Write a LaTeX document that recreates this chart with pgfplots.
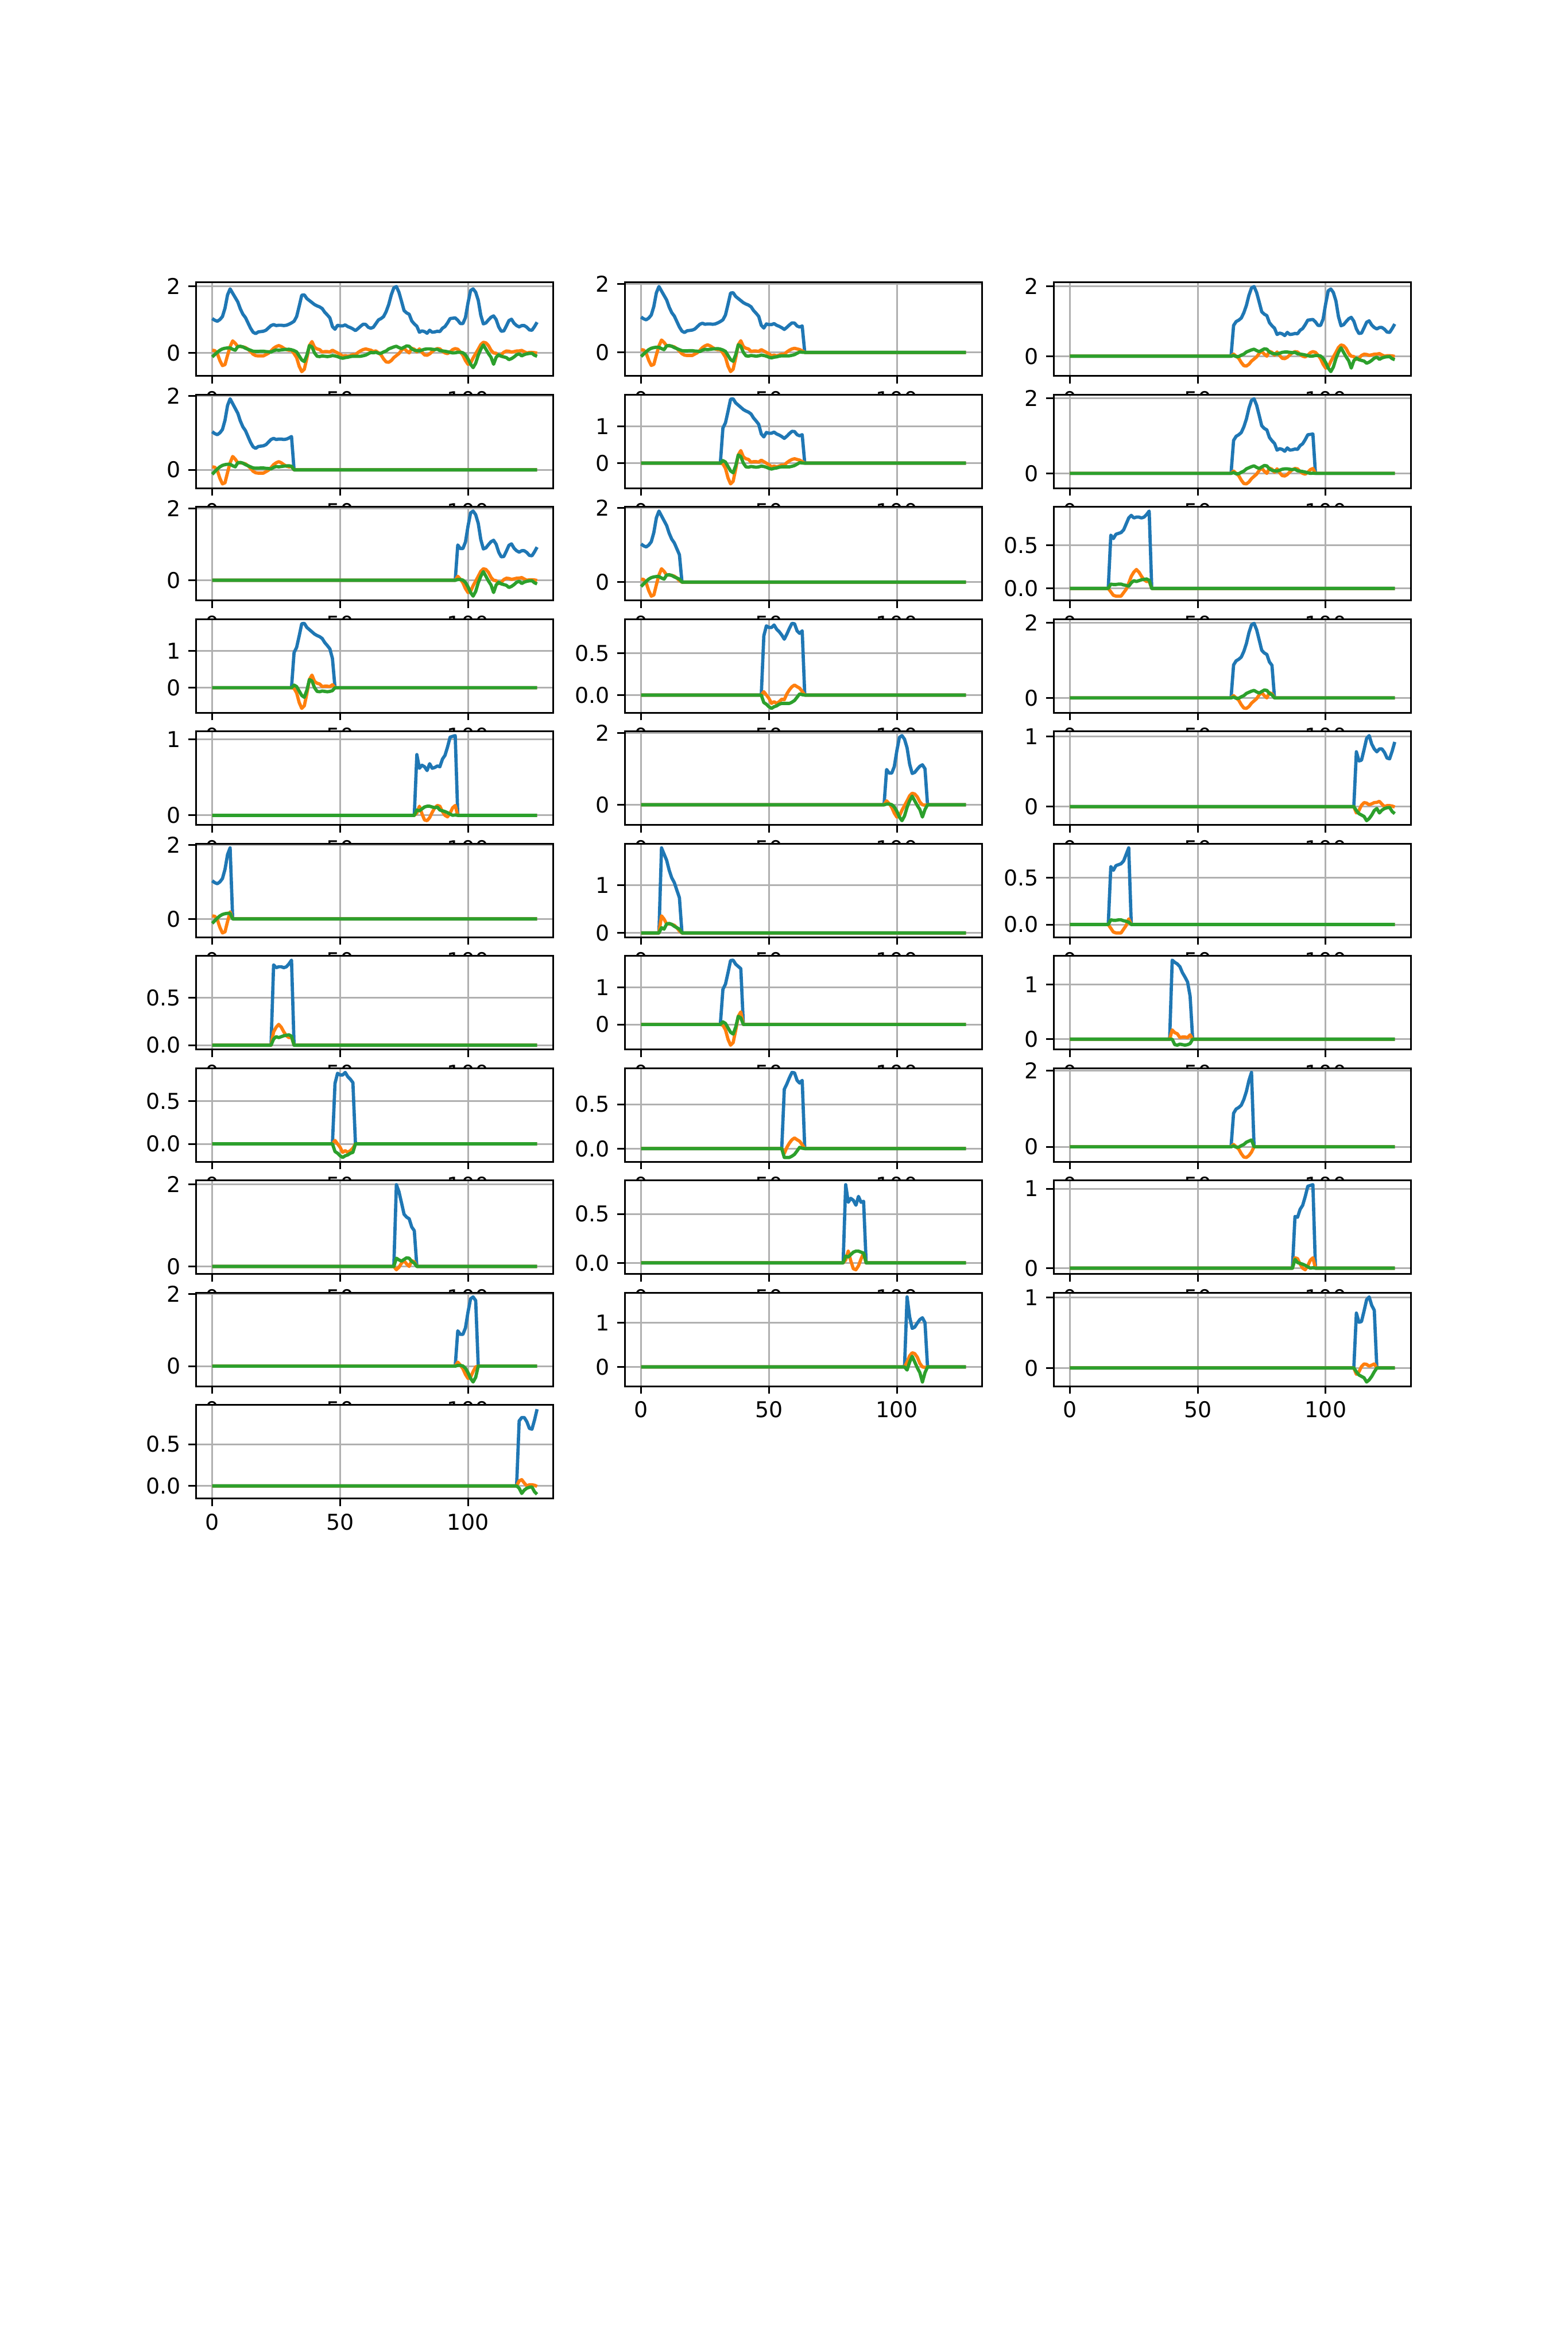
\documentclass[border=0pt]{standalone}
\usepackage{fontspec}
\setmainfont{DejaVu Sans}
\usepackage{pgfplots}
\usepackage{pgfplotstable}
\pgfplotsset{compat=1.18}
\definecolor{c0}{HTML}{1F77B4}
\definecolor{c1}{HTML}{FF7F0E}
\definecolor{c2}{HTML}{2CA02C}
\definecolor{gridc}{HTML}{B0B0B0}

\pgfplotstableread{
x b o g
0 1.03 0.08 -0.12
1 0.98 0.07 -0.05
2 0.95 -0.02 0.02
3 1.00 -0.23 0.08
4 1.09 -0.38 0.12
5 1.34 -0.35 0.14
6 1.74 -0.07 0.15
7 1.92 0.19 0.15
8 1.79 0.36 0.11
9 1.66 0.29 0.08
10 1.53 0.19 0.19
11 1.32 0.19 0.20
12 1.16 0.18 0.18
13 1.06 0.16 0.14
14 0.90 0.11 0.11
15 0.74 0.04 0.08
16 0.62 -0.04 0.05
17 0.58 -0.08 0.045
18 0.63 -0.09 0.045
19 0.64 -0.09 0.05
20 0.65 -0.09 0.05
21 0.68 -0.05 0.04
22 0.75 -0.01 0.035
23 0.82 0.06 0.025
24 0.85 0.14 0.065
25 0.82 0.19 0.09
26 0.83 0.22 0.08
27 0.83 0.19 0.09
28 0.82 0.14 0.10
29 0.83 0.10 0.105
30 0.86 0.08 0.11
31 0.90 0.085 0.095
32 0.95 -0.02 0.07
33 1.09 -0.14 0.03
34 1.40 -0.40 -0.09
35 1.73 -0.56 -0.21
36 1.74 -0.49 -0.26
37 1.63 -0.16 -0.07
38 1.57 0.22 0.22
39 1.51 0.34 0.18
40 1.45 0.17 0.00
41 1.41 0.12 -0.10
42 1.38 0.10 -0.11
43 1.33 0.03 -0.09
44 1.22 0.04 -0.10
45 1.14 0.04 -0.11
46 1.05 0.03 -0.10
47 0.79 0.08 -0.08
48 0.71 0.04 -0.09
49 0.83 0.00 -0.11
50 0.81 -0.04 -0.14
51 0.81 -0.10 -0.16
52 0.84 -0.08 -0.14
53 0.79 -0.10 -0.13
54 0.76 -0.08 -0.11
55 0.72 -0.05 -0.10
56 0.67 -0.055 -0.10
57 0.73 0.014 -0.10
58 0.80 0.063 -0.10
59 0.86 0.10 -0.085
60 0.855 0.12 -0.065
61 0.77 0.10 -0.026
62 0.74 0.083 0.014
63 0.77 0.043 0.004
64 0.88 0.06 0.02
65 0.99 0.00 -0.01
66 1.03 -0.06 -0.01
67 1.09 -0.18 0.03
68 1.24 -0.27 0.06
69 1.45 -0.28 0.12
70 1.74 -0.23 0.15
71 1.95 -0.14 0.18
72 1.99 -0.08 0.20
73 1.82 -0.02 0.16
74 1.55 0.08 0.13
75 1.27 0.14 0.17
76 1.20 0.06 0.21
77 1.16 0.00 0.20
78 0.96 0.14 0.12
79 0.87 0.11 0.08
80 0.80 0.03 0.07
81 0.62 0.12 0.06
82 0.66 0.02 0.085
83 0.64 -0.06 0.11
84 0.59 -0.07 0.12
85 0.68 -0.03 0.12
86 0.62 0.04 0.11
87 0.63 0.10 0.10
88 0.65 0.13 0.11
89 0.64 0.12 0.07
90 0.74 0.05 0.06
91 0.79 0.00 0.05
92 0.90 -0.02 0.035
93 1.03 0.03 0.017
94 1.04 0.10 0.00
95 1.05 0.13 0.005
96 0.98 0.11 0.02
97 0.88 0.03 0.02
98 0.88 -0.07 0.005
99 1.06 -0.23 -0.06
100 1.50 -0.34 -0.18
101 1.87 -0.31 -0.34
102 1.92 -0.15 -0.44
103 1.82 -0.02 -0.31
104 1.58 0.11 -0.07
105 1.13 0.25 0.11
106 0.87 0.32 0.24
107 0.90 0.30 0.11
108 0.99 0.22 -0.02
109 1.07 0.08 -0.13
110 1.11 0.00 -0.34
111 1.00 -0.01 -0.13
112 0.78 -0.09 -0.055
113 0.65 -0.055 -0.10
114 0.66 0.02 -0.12
115 0.81 0.057 -0.14
116 0.97 0.05 -0.20
117 1.01 0.025 -0.17
118 0.89 0.04 -0.12
119 0.82 0.057 -0.055
120 0.78 0.06 -0.027
121 0.82 0.075 -0.09
122 0.82 0.035 -0.05
123 0.77 0.00 -0.027
124 0.69 0.014 -0.016
125 0.68 0.014 -0.012
126 0.79 0.008 -0.07
127 0.92 -0.006 -0.10
}\sig

\pgfplotsset{
  ps/.style={
    scale only axis, width=164.11bp, height=42.96bp, anchor=north west,
    xmin=-6.35, xmax=133.35, enlarge y limits={rel=0.05},
    xtick={0,50,100}, xticklabels={0,50,100},
    grid=major, major grid style={gridc, line width=0.8bp},
    tick align=outside, tick pos=left, major tick length=3.5bp,
    major tick style={black, line width=0.8bp},
    axis line style={black, line width=0.8bp},
    axis background/.style={fill=white},
    tick label style={font=\fontsize{10bp}{12bp}\selectfont},
    every axis plot/.append style={line width=1.5bp, line join=round, no markers},
  },
  tA/.style={ytick={0,2}, yticklabels={0,2}},
  tB/.style={ytick={0,1}, yticklabels={0,1}},
  tC/.style={ytick={0,0.5}, yticklabels={0.0,0.5}},
}

% #1 column, #2 row, #3 first index, #4 end index (excluded), #5 tick style
\newcommand{\panel}[5]{%
\begin{axis}[ps, #5,
  at={({(375+(#1-1)*820.6)*0.24bp},{(4500-540-(#2-1)*214.8)*0.24bp})}]
\addplot[c0] table[x=x, y expr={(\thisrow{x}>=#3 && \thisrow{x}<#4) ? \thisrow{b} : 0}] {\sig};
\addplot[c1] table[x=x, y expr={(\thisrow{x}>=#3 && \thisrow{x}<#4) ? \thisrow{o} : 0}] {\sig};
\addplot[c2] table[x=x, y expr={(\thisrow{x}>=#3 && \thisrow{x}<#4) ? \thisrow{g} : 0}] {\sig};
\end{axis}}

\begin{document}
\begin{tikzpicture}
\fill[white] (0,0) rectangle (720bp,1080bp);
\panel{1}{1}{0}{128}{tA}
\panel{2}{1}{0}{64}{tA}
\panel{3}{1}{64}{128}{tA}
\panel{1}{2}{0}{32}{tA}
\panel{2}{2}{32}{64}{tB}
\panel{3}{2}{64}{96}{tA}
\panel{1}{3}{96}{128}{tA}
\panel{2}{3}{0}{16}{tA}
\panel{3}{3}{16}{32}{tC}
\panel{1}{4}{32}{48}{tB}
\panel{2}{4}{48}{64}{tC}
\panel{3}{4}{64}{80}{tA}
\panel{1}{5}{80}{96}{tB}
\panel{2}{5}{96}{112}{tA}
\panel{3}{5}{112}{128}{tB}
\panel{1}{6}{0}{8}{tA}
\panel{2}{6}{8}{16}{tB}
\panel{3}{6}{16}{24}{tC}
\panel{1}{7}{24}{32}{tC}
\panel{2}{7}{32}{40}{tB}
\panel{3}{7}{40}{48}{tB}
\panel{1}{8}{48}{56}{tC}
\panel{2}{8}{56}{64}{tC}
\panel{3}{8}{64}{72}{tA}
\panel{1}{9}{72}{80}{tA}
\panel{2}{9}{80}{88}{tC}
\panel{3}{9}{88}{96}{tB}
\panel{1}{10}{96}{104}{tA}
\panel{2}{10}{104}{112}{tB}
\panel{3}{10}{112}{120}{tB}
\panel{1}{11}{120}{128}{tC}
\pgfresetboundingbox
\path (0,0) rectangle (720bp,1080bp);
\end{tikzpicture}
\end{document}
